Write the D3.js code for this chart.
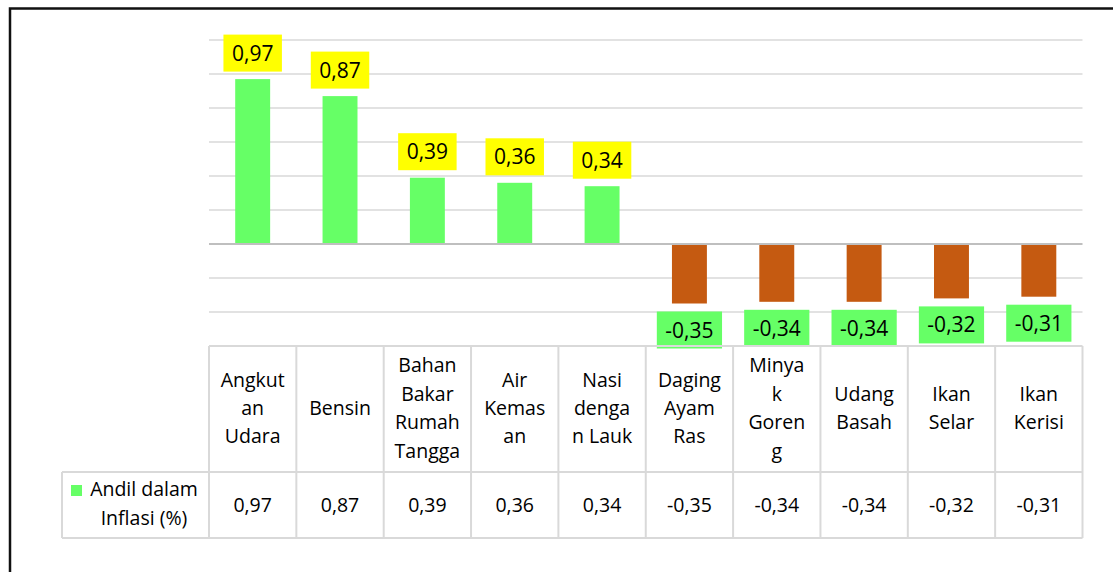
<!DOCTYPE html>
<html>
<head>
<meta charset="utf-8">
<script src="https://cdn.jsdelivr.net/npm/d3@7/dist/d3.min.js"></script>
<style>
  body { margin: 0; background: #fff; }
  svg { display: block; font-family: "Open Sans", sans-serif; }
</style>
</head>
<body>
<div id="chart"></div>
<script>
var categories = ["Angkutan Udara", "Bensin", "Bahan Bakar Rumah Tangga", "Air Kemasan", "Nasi dengan Lauk",
  "Daging Ayam Ras", "Minyak Goreng", "Udang Basah", "Ikan Selar", "Ikan Kerisi"];
/* wrapped the way the table header shows them */
var headerLines = [["Angkut", "an", "Udara"], ["Bensin"], ["Bahan", "Bakar", "Rumah", "Tangga"], ["Air", "Kemas", "an"],
  ["Nasi", "denga", "n Lauk"], ["Daging", "Ayam", "Ras"], ["Minya", "k", "Goren", "g"], ["Udang", "Basah"],
  ["Ikan", "Selar"], ["Ikan", "Kerisi"]];
var values = [0.97, 0.87, 0.39, 0.36, 0.34, -0.35, -0.34, -0.34, -0.32, -0.31];
var yTicks = [-0.4, -0.2, 0, 0.2, 0.4, 0.6, 0.8, 1.0, 1.2];
var seriesName = ["Andil dalam", "Inflasi (%)"];

var W = 1113, H = 572;
var fmt = function(v) { return d3.format(".2f")(v).replace(".", ",").replace("\u2212", "-"); };

var svg = d3.select("#chart").append("svg")
  .attr("width", W)
  .attr("height", H);

/* outer frame, runs off the right and bottom */
svg.append("rect")
  .attr("x", 10).attr("y", 8.5)
  .attr("width", W + 20).attr("height", H + 20)
  .attr("fill", "none")
  .attr("stroke", "#111")
  .attr("stroke-width", 2.5);

var x = d3.scaleBand()
  .domain(categories)
  .range([209, 1082.5]);
var y = d3.scaleLinear()
  .domain([-0.4, 1.2])
  .range([312, 40]);

/* gridlines */
svg.append("g").selectAll("line")
  .data(yTicks)
  .enter().append("line")
  .attr("x1", 209).attr("x2", 1082.5)
  .attr("y1", function(d) { return y(d); })
  .attr("y2", function(d) { return y(d); })
  .attr("stroke", function(d) { return d === 0 ? "#bfbfbf" : "#d9d9d9"; })
  .attr("stroke-width", function(d) { return d === 0 ? 2 : 1.5; });

var barW = x.bandwidth() * 0.4;
svg.append("g").selectAll("rect")
  .data(values)
  .enter().append("rect")
  .attr("x", function(d, i) { return x(categories[i]) + (x.bandwidth() - barW) / 2; })
  .attr("y", function(d) { return d >= 0 ? y(d) : y(0) + 1; })
  .attr("width", barW)
  .attr("height", function(d) { return d >= 0 ? y(0) - y(d) - 1 : y(d) - y(0) - 1; })
  .attr("fill", function(d) { return d >= 0 ? "#66ff66" : "#c55a11"; });

/* data labels in coloured boxes */
var lab = svg.append("g").selectAll("g")
  .data(values)
  .enter().append("g")
  .attr("transform", function(d, i) {
    var cx = x(categories[i]) + x.bandwidth() / 2;
    var cy = d >= 0 ? y(d) - 7.5 - 18.5 : y(d) + 8 + 18.5;
    return "translate(" + cx + "," + cy + ")";
  });
lab.append("rect")
  .attr("fill", function(d) { return d >= 0 ? "#ffff00" : "#66ff66"; });
lab.append("text")
  .attr("text-anchor", "middle")
  .attr("dy", "0.36em")
  .attr("font-size", 21)
  .attr("fill", "#000")
  .text(function(d) { return fmt(d); });
lab.each(function() {
  var g = d3.select(this);
  var w = g.select("text").node().getComputedTextLength() + 17;
  g.select("rect").attr("x", -w / 2).attr("y", -18.5).attr("width", w).attr("height", 37);
});

/* data table */
var tb = svg.append("g");
var lineC = "#d9d9d9";
tb.append("line").attr("x1", 209).attr("x2", 1082.5).attr("y1", 346).attr("y2", 346);
tb.append("line").attr("x1", 62).attr("x2", 1082.5).attr("y1", 472).attr("y2", 472);
tb.append("line").attr("x1", 62).attr("x2", 1082.5).attr("y1", 538).attr("y2", 538);
tb.append("line").attr("x1", 62).attr("x2", 62).attr("y1", 472).attr("y2", 538);
tb.selectAll(".vcol")
  .data(categories.concat(["end"]))
  .enter().append("line")
  .attr("class", "vcol")
  .attr("x1", function(d, i) { return i < categories.length ? x(d) : x.range()[1]; })
  .attr("x2", function(d, i) { return i < categories.length ? x(d) : x.range()[1]; })
  .attr("y1", 346).attr("y2", 538);
tb.selectAll("line").attr("stroke", lineC).attr("stroke-width", 2);

var lh = 28.4;
tb.selectAll(".hdr")
  .data(headerLines)
  .enter().append("text")
  .attr("class", "hdr")
  .attr("text-anchor", "middle")
  .attr("font-size", 19.5)
  .attr("fill", "#000")
  .each(function(lines, i) {
    var t = d3.select(this);
    var cx = x(categories[i]) + x.bandwidth() / 2;
    var y0 = 415 - (lines.length - 1) * lh / 2;
    lines.forEach(function(s, k) {
      t.append("tspan").attr("x", cx).attr("y", y0 + k * lh).text(s);
    });
  });

tb.selectAll(".val")
  .data(values)
  .enter().append("text")
  .attr("class", "val")
  .attr("text-anchor", "middle")
  .attr("font-size", 19.5)
  .attr("fill", "#000")
  .attr("x", function(d, i) { return x(categories[i]) + x.bandwidth() / 2; })
  .attr("y", 512)
  .text(function(d) { return fmt(d); });

/* legend key cell */
tb.append("rect")
  .attr("x", 71).attr("y", 485)
  .attr("width", 11).attr("height", 11)
  .attr("fill", "#66ff66");
tb.append("text")
  .attr("text-anchor", "middle")
  .attr("font-size", 19.5)
  .attr("fill", "#000")
  .selectAll("tspan")
  .data(seriesName)
  .enter().append("tspan")
  .attr("x", 144)
  .attr("y", function(d, i) { return 496 + i * 29; })
  .text(function(d) { return d; });
</script>
</body>
</html>
